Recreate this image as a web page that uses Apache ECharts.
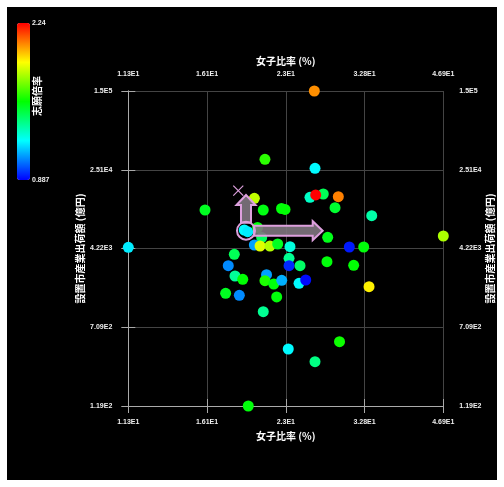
<!DOCTYPE html>
<html><head><meta charset="utf-8">
<script src="https://cdn.jsdelivr.net/npm/echarts@6/dist/echarts.min.js"></script>
<style>html,body{margin:0;padding:0;background:#fff;overflow:hidden;width:504px;height:487px;} #c{width:504px;height:487px;position:absolute;left:0;top:0;}</style>
</head><body><div id="c"></div>
<script>
// ---- data ----
const femaleRatio = [26.16, 20.92, 26.24, 15.95, 11.27, 19.94, 20.76, 22.55, 22.91, 25.65, 27.24, 26.32, 29.16, 28.73, 33.92, 19.05, 19.35, 20.23, 20.61, 19.94, 20.46, 21.40, 22.16, 23.43, 27.79, 30.65, 32.71, 46.9, 18.21, 23.33, 23.33, 24.52, 27.70, 31.26, 17.72, 18.27, 18.92, 21.07, 20.92, 21.77, 22.57, 24.41, 25.16, 33.51, 17.51, 18.63, 22.06, 20.76, 29.32, 23.25, 26.24, 19.40];
const shipment = [150000, 31900, 26020, 10110, 4342, 13180, 10110, 10460, 10230, 13490, 14530, 14210, 13670, 10650, 8885, 6426, 6183, 6800, 5422, 4575, 4472, 4472, 4679, 4401, 5447, 4371, 4371, 5610, 3705, 3383, 2861, 2861, 3133, 2887, 2861, 2266, 2103, 2334, 2037, 1890, 2055, 1920, 2069, 1778, 1531, 1463, 1408, 1009, 511, 433, 325, 119];
const appRatio = [2.05, 1.62, 1.22, 1.52, 1.2, 1.82, 1.54, 1.55, 1.56, 1.3, 1.45, 2.24, 2.07, 1.5, 1.34, 1.22, 1.2, 1.55, 1.44, 1.1, 1.86, 1.8, 1.52, 1.27, 1.53, 0.92, 1.55, 1.79, 1.45, 1.37, 0.94, 1.43, 1.55, 1.56, 1.07, 1.36, 1.56, 1.1, 1.6, 1.55, 1.12, 1.22, 0.9, 1.92, 1.52, 1.07, 1.55, 1.37, 1.58, 1.22, 1.39, 1.55];
const xTickLabels = ['1.13E1', '1.61E1', '2.3E1', '3.28E1', '4.69E1'];
const yTickLabels = ['1.19E2', '7.09E2', '4.22E3', '2.51E4', '1.5E5'];
const xRange = [11.27, 46.9];
const yRange = [119, 150000];
const colorRange = [0.887, 2.24];
const colorLabels = ['2.24', '0.887'];
const centerPoint = [19.2, 6325];
const crossPoint = [18.54, 15660];
const arrowUpTipY = 14210;
const arrowRightTipX = 27.17;
const xName = '女子比率 (%)';
const yName = '設置市産業出荷額 (億円)';
const colorName = '志願倍率';

// log transform into tick units (0..4)
const steps = 4;
const tx = v => steps * Math.log(v / xRange[0]) / Math.log(xRange[1] / xRange[0]);
const ty = v => steps * Math.log(v / yRange[0]) / Math.log(yRange[1] / yRange[0]);

const points = femaleRatio.map((x, i) => [tx(x), ty(shipment[i]), appRatio[i]]);

const labelFont = {color: '#eee', fontSize: 7, fontWeight: 'bold', fontFamily: 'Liberation Sans'};
const nameFont = {color: '#fff', fontSize: 10, fontWeight: 'bold', fontFamily: 'Noto Sans CJK JP'};
const lineC = '#aaa';

function mkX(pos, showSplit) {
  return {
    type: 'value', position: pos, min: 0, max: steps, interval: 1,
    name: xName, nameLocation: 'middle', nameGap: 25, nameTextStyle: nameFont, nameMoveOverlap: false,
    axisLine: {show: true, lineStyle: {color: lineC, width: 1}},
    axisTick: {show: true, inside: false, length: 7, lineStyle: {color: lineC}},
    axisLabel: Object.assign({margin: 13, formatter: v => xTickLabels[Math.round(v)]}, labelFont),
    splitLine: {show: showSplit, lineStyle: {color: '#444', width: 1}}
  };
}
function mkY(pos, showSplit, gap) {
  return {
    type: 'value', position: pos, min: 0, max: steps, interval: 1,
    name: yName, nameLocation: 'middle', nameGap: gap, nameTextStyle: nameFont, nameMoveOverlap: false,
    axisLine: {show: true, lineStyle: {color: lineC, width: 1}},
    axisTick: {show: true, inside: false, length: 7, lineStyle: {color: lineC}},
    axisLabel: Object.assign({margin: 16, formatter: v => yTickLabels[Math.round(v)]}, labelFont),
    splitLine: {show: showSplit, lineStyle: {color: '#444', width: 1}}
  };
}

const chart = echarts.init(document.getElementById('c'), null, {renderer: 'canvas', width: 504, height: 487});
const deco = {stroke: '#dda0dd', lineWidth: 2, fill: 'rgba(128,118,128,0.9)'};
chart.setOption({
  animation: false,
  backgroundColor: '#fff',
  grid: {left: 128.3, right: 60.7, top: 91, bottom: 81},
  xAxis: [mkX('bottom', true), mkX('top', false)],
  yAxis: [mkY('left', true, 43), mkY('right', false, 42)],
  visualMap: {
    type: 'continuous', min: colorRange[0], max: colorRange[1], dimension: 2, seriesIndex: 0,
    left: 17, top: 23, itemWidth: 13, itemHeight: 157, padding: 0, calculable: false,
    inRange: {color: ['#0000ff', '#00ffff', '#00ff00', '#ffff00', '#ff0000']}
  },
  graphic: [
    {type: 'rect', shape: {x: 7, y: 7, width: 490, height: 473}, style: {fill: '#000'}, z: -100, silent: true},
    {type: 'text', x: 32, y: 23, style: {text: colorLabels[0], fill: '#eee', verticalAlign: 'middle', font: 'bold 7px Liberation Sans'}},
    {type: 'text', x: 32, y: 180.5, style: {text: colorLabels[1], fill: '#eee', verticalAlign: 'middle', font: 'bold 7px Liberation Sans'}},
    {type: 'text', x: 37.5, y: 96, rotation: Math.PI / 2, style: {text: colorName, fill: '#fff', align: 'center', verticalAlign: 'middle', font: 'bold 10px "Noto Sans CJK JP"'}}
  ],
  series: [
    {
      type: 'scatter', xAxisIndex: 0, yAxisIndex: 0, symbolSize: 11,
      data: points, itemStyle: {opacity: 1}, z: 2
    },
    {
      type: 'custom', xAxisIndex: 0, yAxisIndex: 0, z: 5,
      data: [[tx(centerPoint[0]), ty(centerPoint[1])]],
      renderItem: (params, api) => {
        const c = api.coord([tx(centerPoint[0]), ty(centerPoint[1])]);
        const up = api.coord([tx(centerPoint[0]), ty(arrowUpTipY)]);
        const rt = api.coord([tx(arrowRightTipX), ty(centerPoint[1])]);
        const cr = api.coord([tx(crossPoint[0]), ty(crossPoint[1])]);
        const r = 9, sw = 5, hw = 9.5, hl = 10;
        const cx = c[0], cy = c[1];
        const upPts = [[cx - sw, cy - r + 1], [cx - sw, up[1] + hl], [cx - hw, up[1] + hl], [cx, up[1]], [cx + hw, up[1] + hl], [cx + sw, up[1] + hl], [cx + sw, cy - r + 1]];
        const rtPts = [[cx + r - 1, cy - sw], [rt[0] - hl, cy - sw], [rt[0] - hl, cy - hw], [rt[0], cy], [rt[0] - hl, cy + hw], [rt[0] - hl, cy + sw], [cx + r - 1, cy + sw]];
        const s = 5;
        return {
          type: 'group', children: [
            {type: 'polygon', shape: {points: upPts}, style: deco},
            {type: 'polygon', shape: {points: rtPts}, style: deco},
            {type: 'circle', shape: {cx: cx, cy: cy, r: r}, style: {stroke: '#dda0dd', lineWidth: 2, fill: null}},
            {type: 'line', shape: {x1: cr[0] - s, y1: cr[1] - s, x2: cr[0] + s, y2: cr[1] + s}, style: {stroke: '#dda0dd', lineWidth: 1.2}},
            {type: 'line', shape: {x1: cr[0] - s, y1: cr[1] + s, x2: cr[0] + s, y2: cr[1] - s}, style: {stroke: '#dda0dd', lineWidth: 1.2}}
          ]
        };
      }
    }
  ]
});
</script></body></html>
